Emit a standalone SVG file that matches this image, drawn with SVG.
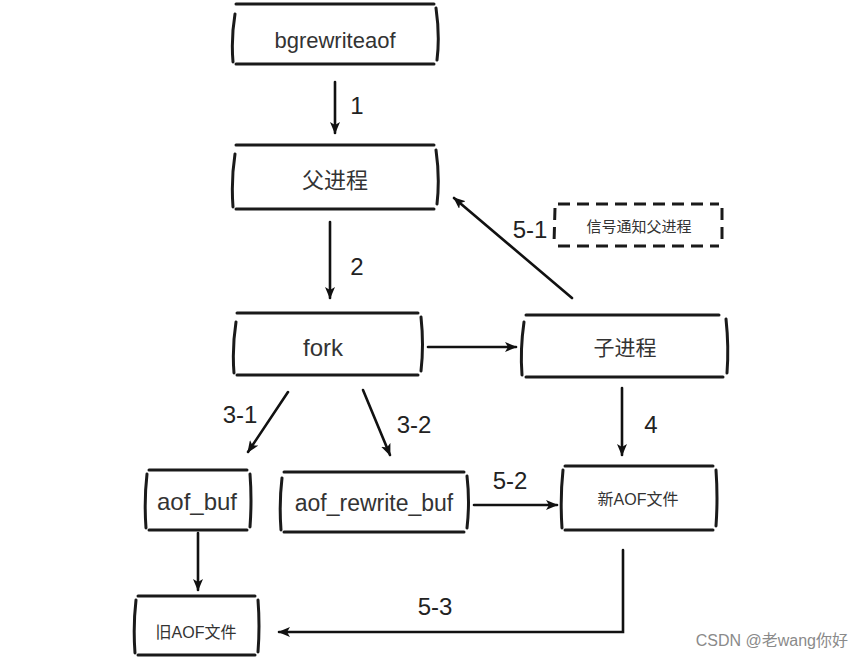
<svg xmlns="http://www.w3.org/2000/svg" width="862" height="658" viewBox="0 0 862 658">
<defs>
<marker id="ah" viewBox="0 0 12 10" refX="11" refY="5" markerWidth="12" markerHeight="10" markerUnits="userSpaceOnUse" orient="auto">
<path d="M0,0 L12,5 L0,10 L3,5 z" fill="#111"/>
</marker>
<style>
.bx{fill:none;stroke:#1a1a1a;stroke-width:3;stroke-linecap:round}
.ds{fill:none;stroke:#1a1a1a;stroke-width:3;stroke-dasharray:12 7}
.cn{fill:none;stroke:#111;stroke-width:2.6;stroke-linecap:round;marker-end:url(#ah)}
.t{font-family:"Liberation Sans","Noto Sans CJK SC",sans-serif;fill:#333;text-anchor:middle}
.lb{font-family:"Liberation Sans",sans-serif;fill:#222;font-size:24px;text-anchor:middle}
</style>
</defs>
<rect width="862" height="658" fill="#fff"/>

<g id="n-bgrewriteaof">
<path class="bx" d="M236,4 L434,4 M236,64 L434,64 M235,14 Q231,38 233,62 M436,8 Q440,36 437,60"/>
<text class="t" x="335" y="48" font-size="22">bgrewriteaof</text>
</g>

<g id="n-parent">
<path class="bx" d="M236,145 L434,145 M236,209 L434,209 M235,154 Q231,180 233,207 M436,150 Q440,178 437,204"/>
<text class="t" x="335" y="188" font-size="22">父进程</text>
</g>

<g id="n-fork">
<path class="bx" d="M237,313 L418,313 M237,375 L418,375 M236,322 Q232,348 234,373 M421,317 Q424,345 421,371"/>
<text class="t" x="323" y="356" font-size="24">fork</text>
</g>

<g id="n-child">
<path class="bx" d="M526,315 L719,315 M526,377 L723,377 M524,322 Q520,350 522,375 M726,319 Q729,347 727,373"/>
<text class="t" x="625" y="355" font-size="21">子进程</text>
</g>

<g id="n-signal">
<path class="ds" d="M558,204 L719,204 M558,246 L719,246 M555,208 L554,244 M722,208 L722,244"/>
<text class="t" x="639" y="232" font-size="15">信号通知父进程</text>
</g>

<g id="n-aofbuf">
<path class="bx" d="M149,470 L247,470 M149,530 L247,530 M147,474 Q144,500 146,528 M250,474 Q252,500 250,527"/>
<text class="t" x="197" y="510" font-size="24">aof_buf</text>
</g>

<g id="n-rewritebuf">
<path class="bx" d="M284,472 L464,472 M284,532 L464,532 M282,478 Q279,503 281,530 M467,476 Q470,502 467,528"/>
<text class="t" x="374" y="511" font-size="23">aof_rewrite_buf</text>
</g>

<g id="n-newaof">
<path class="bx" d="M565,466 L713,466 M565,530 L713,530 M563,470 Q560,498 562,528 M716,470 Q718,498 716,526"/>
<text class="t" x="638" y="505" font-size="16">新AOF文件</text>
</g>

<g id="n-oldaof">
<path class="bx" d="M138,596 L255,596 M138,655 L255,655 M136,600 Q133,626 135,653 M258,600 Q260,626 258,652"/>
<text class="t" x="196" y="638" font-size="16">旧AOF文件</text>
</g>

<g id="connectors">
<path class="cn" d="M335,82 L335,133"/>
<path class="cn" d="M330,222 L330,298"/>
<path class="cn" d="M428,347 L516,347"/>
<path class="cn" d="M572,298 L454,198"/>
<path class="cn" d="M288,392 L248,452"/>
<path class="cn" d="M363,390 L390,455"/>
<path class="cn" d="M622,388 L622,455"/>
<path class="cn" d="M474,505 L557,505"/>
<path class="cn" d="M198,533 L198,590"/>
<path class="cn" d="M623,550 L623,632 L279,632"/>
</g>

<g id="labels">
<text class="lb" x="357" y="114">1</text>
<text class="lb" x="357" y="275">2</text>
<text class="lb" x="530" y="238">5-1</text>
<text class="lb" x="240" y="423">3-1</text>
<text class="lb" x="414" y="433">3-2</text>
<text class="lb" x="651" y="433">4</text>
<text class="lb" x="510" y="489">5-2</text>
<text class="lb" x="435" y="615">5-3</text>
</g>

<text x="848" y="646" font-family="Liberation Sans,'Noto Sans CJK SC',sans-serif" font-size="16" fill="#8a8a8a" text-anchor="end">CSDN @老wang你好</text>
</svg>
